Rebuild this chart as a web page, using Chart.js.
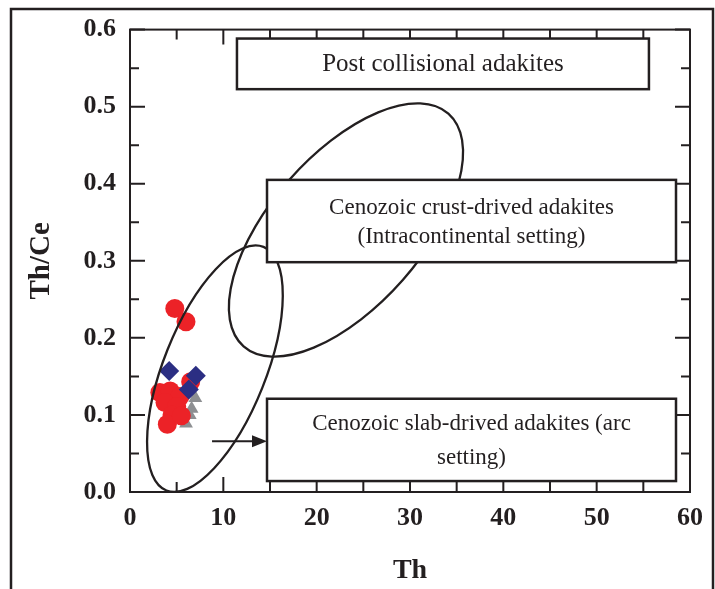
<!DOCTYPE html>
<html>
<head>
<meta charset="utf-8">
<script src="https://cdn.jsdelivr.net/npm/chart.js@4.4.0/dist/chart.umd.min.js"></script>
<style>
  html, body { margin: 0; padding: 0; background: #fff; }
  #wrap { width: 715px; height: 589px; }
</style>
</head>
<body>
<div id="wrap"><canvas id="chart" width="715" height="589"></canvas></div>
<script>
// samples (Th ppm, Th/Ce)
const redTh   = [4.8, 6.0, 3.2, 4.3, 5.35, 3.75, 5.0, 4.5, 4.0, 5.5, 6.5];
const redThCe = [0.238, 0.221, 0.129, 0.131, 0.124, 0.116, 0.111, 0.100, 0.088, 0.099, 0.143];
const blueTh   = [4.2, 7.05, 6.3];
const blueThCe = [0.157, 0.151, 0.133];
const greyTh   = [7.0, 6.6, 6.4, 6.0];
const greyThCe = [0.122, 0.108, 0.100, 0.089];

const xMajor = [0, 10, 20, 30, 40, 50, 60];
const xMinor = [5, 15, 25, 35, 45, 55];
const yMajor = [0, 0.1, 0.2, 0.3, 0.4, 0.5, 0.6];
const yMinor = [0.05, 0.15, 0.25, 0.35, 0.45, 0.55];

// field ellipses: centre, end of major axis, end of minor axis (data units)
const fields = [
  { c: [9.1, 0.160], major: [14.3, 0.318], minor: [4.0, 0.184] },
  { c: [23.14, 0.340], major: [34.11, 0.491], minor: [16.99, 0.404] }
];

// label boxes (data units)
const boxes = [
  { x0: 11.46, x1: 55.6, y0: 0.5227, y1: 0.5884, lines: ['Post collisional adakites'], gap: 0, size: 25 },
  { x0: 14.68, x1: 58.5, y0: 0.2982, y1: 0.4050, lines: ['Cenozoic crust-drived adakites', '(Intracontinental setting)'], gap: 29, size: 23 },
  { x0: 14.68, x1: 58.5, y0: 0.0142, y1: 0.1210, lines: ['Cenozoic slab-drived adakites (arc', 'setting)'], gap: 34, size: 23 }
];
const arrow = { from: [8.79, 0.0657], to: [14.68, 0.0657] };

const serif = 'Liberation Serif, Times New Roman, serif';
const ink = '#231f20';

const pts = (xs, ys) => xs.map((x, i) => ({ x: x, y: ys[i] }));

const overlay = {
  id: 'overlay',
  beforeDraw(chart) {
    const ctx = chart.ctx;
    ctx.save();
    ctx.fillStyle = '#fff';
    ctx.fillRect(0, 0, chart.width, chart.height);
    ctx.strokeStyle = ink;
    ctx.lineWidth = 2.5;
    ctx.strokeRect(11, 9, 702, 600);
    ctx.restore();
  },
  afterDatasetsDraw(chart) {
    const ctx = chart.ctx;
    const xs = chart.scales.x, ys = chart.scales.y;
    const a = chart.chartArea;
    const px = v => xs.getPixelForValue(v), py = v => ys.getPixelForValue(v);
    ctx.save();

    // ellipses
    ctx.strokeStyle = ink;
    ctx.lineWidth = 2.3;
    fields.forEach(f => {
      const cx = px(f.c[0]), cy = py(f.c[1]);
      const mx = px(f.major[0]), my = py(f.major[1]);
      const nx = px(f.minor[0]), ny = py(f.minor[1]);
      const ra = Math.hypot(mx - cx, my - cy), rb = Math.hypot(nx - cx, ny - cy);
      ctx.beginPath();
      ctx.ellipse(cx, cy, ra, rb, Math.atan2(my - cy, mx - cx), 0, Math.PI * 2);
      ctx.stroke();
    });

    // frame + inward ticks
    ctx.lineWidth = 2;
    ctx.strokeRect(a.left, a.top, a.right - a.left, a.bottom - a.top);
    ctx.beginPath();
    const tick = (vals, len) => {
      vals.forEach(v => {
        const x = px(v);
        ctx.moveTo(x, a.bottom); ctx.lineTo(x, a.bottom - len);
        ctx.moveTo(x, a.top); ctx.lineTo(x, a.top + len);
      });
    };
    const tickY = (vals, len) => {
      vals.forEach(v => {
        const y = py(v);
        ctx.moveTo(a.left, y); ctx.lineTo(a.left + len, y);
        ctx.moveTo(a.right, y); ctx.lineTo(a.right - len, y);
      });
    };
    tick(xMajor, 15); tick(xMinor, 10);
    tickY(yMajor, 15); tickY(yMinor, 9);
    ctx.stroke();

    // arrow
    const ax0 = px(arrow.from[0]), ax1 = px(arrow.to[0]), ay = py(arrow.from[1]);
    ctx.beginPath();
    ctx.moveTo(ax0, ay); ctx.lineTo(ax1 - 10, ay);
    ctx.stroke();
    ctx.fillStyle = ink;
    ctx.beginPath();
    ctx.moveTo(ax1, ay); ctx.lineTo(ax1 - 15, ay - 6); ctx.lineTo(ax1 - 15, ay + 6);
    ctx.closePath();
    ctx.fill();

    // boxes
    ctx.textAlign = 'center';
    ctx.textBaseline = 'middle';
    boxes.forEach(b => {
      const l = px(b.x0), r = px(b.x1), t = py(b.y1), bt = py(b.y0);
      ctx.fillStyle = '#fff';
      ctx.fillRect(l, t, r - l, bt - t);
      ctx.lineWidth = 2.5;
      ctx.strokeRect(l, t, r - l, bt - t);
      ctx.fillStyle = ink;
      ctx.font = b.size + 'px ' + serif;
      const mid = (t + bt) / 2, cxm = (l + r) / 2;
      const start = mid - b.gap * (b.lines.length - 1) / 2;
      b.lines.forEach((s, i) => ctx.fillText(s, cxm, start + i * b.gap + 1));
    });
    ctx.restore();
  }
};

new Chart(document.getElementById('chart'), {
  type: 'scatter',
  data: {
    datasets: [
      { label: 'blue', data: pts(blueTh, blueThCe), pointStyle: 'rectRot', pointRadius: 10,
        backgroundColor: '#2b2e83', borderWidth: 0 },
      { label: 'red', data: pts(redTh, redThCe), pointStyle: 'circle', pointRadius: 9.5,
        backgroundColor: '#ec2227', borderWidth: 0 },
      { label: 'grey', data: pts(greyTh, greyThCe), pointStyle: 'triangle', pointRadius: 8,
        backgroundColor: '#8d8f92', borderWidth: 0 }
    ]
  },
  options: {
    responsive: false,
    animation: false,
    events: [],
    layout: { padding: { top: 26, right: 25, left: 0, bottom: 0 } },
    plugins: { legend: { display: false }, tooltip: { enabled: false } },
    scales: {
      x: {
        type: 'linear', min: 0, max: 60,
        afterBuildTicks: s => { s.ticks = xMajor.map(v => ({ value: v })); },
        ticks: { padding: 11, color: ink, font: { family: serif, size: 26, weight: 'bold' } },
        grid: { display: false, drawTicks: false },
        border: { display: false },
        title: { display: true, text: 'Th', color: ink, font: { family: serif, size: 28, weight: 'bold' },
                 padding: { top: 0, bottom: 1 } },
        afterFit: s => { s.height = 97; }
      },
      y: {
        type: 'linear', min: 0, max: 0.6,
        afterBuildTicks: s => { s.ticks = yMajor.map(v => ({ value: v })); },
        ticks: { padding: 14, color: ink, font: { family: serif, size: 26, weight: 'bold' },
                 callback: v => v.toFixed(1) },
        grid: { display: false, drawTicks: false },
        border: { display: false },
        title: { display: true, text: 'Th/Ce', color: ink, font: { family: serif, size: 29, weight: 'bold' },
                 padding: { top: 24, bottom: 0 } },
        afterFit: s => { s.width = 130; }
      }
    }
  },
  plugins: [overlay]
});
</script>
</body>
</html>
